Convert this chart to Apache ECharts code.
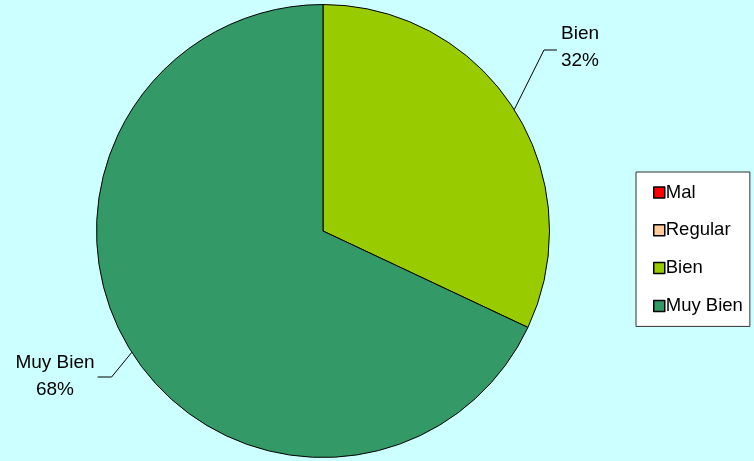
<!DOCTYPE html>
<html>
<head>
<meta charset="utf-8">
<script src="https://cdn.jsdelivr.net/npm/echarts@6/dist/echarts.min.js"></script>
<style>
html,body{margin:0;padding:0;background:#CCFFFF;}
#chart{width:754px;height:461px;}
</style>
</head>
<body>
<div id="chart"></div>
<script>
const categories = ['Mal', 'Regular', 'Bien', 'Muy Bien'];
const values = [0, 0, 32, 68];
const colors = ['#FF0000', '#FFCC99', '#99CC00', '#339966'];
const labelSpots = { 'Bien': [580, 47, 'left'], 'Muy Bien': [55, 376, 'right'] };

const chart = echarts.init(document.getElementById('chart'), null, { renderer: 'canvas' });
const data = categories.map((c, i) => ({
  name: c,
  value: values[i],
  itemStyle: { color: colors[i] },
  label: { show: values[i] > 0 },
  labelLine: { show: values[i] > 0 }
}));

chart.setOption({
  backgroundColor: '#CCFFFF',
  animation: false,
  legend: {
    orient: 'vertical',
    left: 636,
    top: 172,
    padding: [11, 7, 11, 17],
    itemWidth: 11,
    itemHeight: 11,
    itemGap: 18.8,
    icon: 'rect',
    backgroundColor: '#FFFFFF',
    borderColor: '#333333',
    borderWidth: 1,
    borderRadius: 0,
    data: categories,
    itemStyle: { borderColor: '#000000', borderWidth: 1.5 },
    textStyle: { fontFamily: 'Liberation Sans, Arial, sans-serif', fontSize: 18.5, lineHeight: 18, color: '#000', padding: [0, 0, 0, -4] }
  },
  series: [{
    type: 'pie',
    center: [323, 231],
    radius: 226.5,
    startAngle: 90,
    clockwise: true,
    avoidLabelOverlap: false,
    itemStyle: { borderColor: '#000000', borderWidth: 1 },
    label: {
      position: 'outside',
      formatter: p => p.name + '\n' + Math.round(p.percent) + '%',
      fontFamily: 'Liberation Sans, Arial, sans-serif',
      fontSize: 19,
      lineHeight: 27,
      color: '#000',
      align: 'center'
    },
    labelLine: {
      show: true,
      length: 20,
      length2: 15,
      lineStyle: { color: '#000', width: 1 }
    },
    labelLayout: function (params) {
      const name = categories[params.dataIndex];
      const spot = labelSpots[name];
      if (!spot) return {};
      const w = params.labelRect.width;
      const cx = spot[0], cy = spot[1];
      const start = params.labelLinePoints ? params.labelLinePoints[0] : null;
      const out = { x: cx, y: cy, align: 'center', verticalAlign: 'middle' };
      if (start) {
        if (spot[2] === 'left') {
          const edge = cx - w / 2;
          out.labelLinePoints = [start, [edge - 17, cy + 3], [edge - 4, cy + 3]];
        } else {
          const edge = cx + w / 2;
          out.labelLinePoints = [start, [edge + 17, cy + 1], [edge + 3, cy + 1]];
        }
      }
      return out;
    },
    emphasis: { disabled: true },
    data: data
  }]
});
</script>
</body>
</html>
